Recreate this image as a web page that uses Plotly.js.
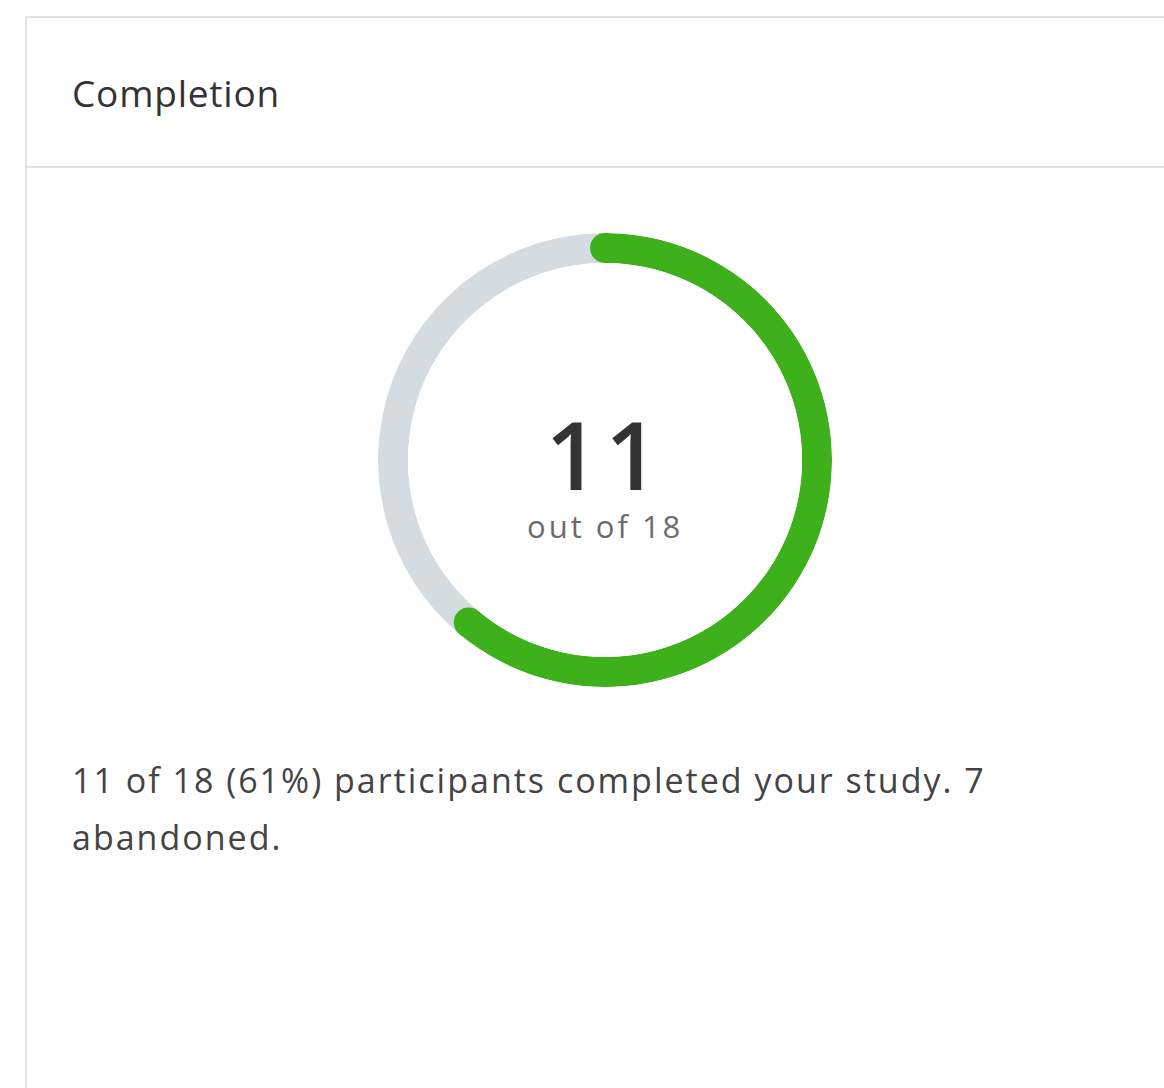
<!DOCTYPE html>
<html>
<head>
<meta charset="utf-8">
<script src="https://cdn.plot.ly/plotly-3.0.1.min.js"></script>
<style>html,body{margin:0;padding:0;background:#fff;}#chart{width:1164px;height:1088px;}</style>
</head>
<body>
<div id="chart"></div>
<script>
const categories = ["Completed", "Abandoned"];
const values = [11, 7];
const colors = ["#3db01c", "#d4dce1"];
const headerTitle = "Completion";

const W = 1164, H = 1088;
const total = values.reduce((a, b) => a + b, 0);
const pct = Math.round(values[0] / total * 100);
const px = x => x / W;
const py = y => 1 - y / H;
const styled = (s, css) => '<span style="' + css + '">' + s + '</span>';

const cx = 605, cy = 460, R = 227, ringPx = 30;
const holeFrac = 1 - ringPx / R;

// angular extents of each category (degrees, clockwise from 12 o'clock)
const widths = values.map(v => v / total * 360);
const starts = widths.map((w, i) => widths.slice(0, i).reduce((a, b) => a + b, 0));
const centers = starts.map((s, i) => s + widths[i] / 2);

const ringTraces = [1, 0].map(i => ({
  type: "barpolar",
  name: categories[i],
  r: [1],
  theta: [centers[i]],
  width: [widths[i]],
  marker: { color: colors[i], line: { width: 0 } },
  hoverinfo: "name",
  showlegend: false
}));

// rounded caps at both ends of the completed arc
const capTrace = {
  type: "scatterpolar",
  mode: "markers",
  r: [0.5, 0.5],
  theta: [starts[0], starts[0] + widths[0]],
  marker: { color: colors[0], size: ringPx, line: { width: 0 } },
  hoverinfo: "skip",
  showlegend: false
};

const font = "'Open Sans', Arial, sans-serif";
const centerText =
  styled(String(values[0]), "font-size:94px;font-weight:600;letter-spacing:6px;fill:#333333") +
  "<br>" +
  styled("out of " + total, "font-size:31px;letter-spacing:3px;fill:#6b6b6b");

const layout = {
  width: W, height: H,
  margin: { l: 0, r: 0, t: 0, b: 0 },
  paper_bgcolor: "#ffffff",
  showlegend: false,
  polar: {
    domain: { x: [px(cx - R), px(cx + R)], y: [py(cy + R), py(cy - R)] },
    hole: holeFrac,
    bgcolor: "rgba(0,0,0,0)",
    radialaxis: { visible: false, range: [0, 1] },
    angularaxis: { visible: false, rotation: 90, direction: "clockwise" }
  },
  shapes: [
    { type: "line", xref: "paper", yref: "paper", x0: px(26), x1: 1, y0: py(17), y1: py(17), line: { color: "#e3e3e3", width: 2 } },
    { type: "line", xref: "paper", yref: "paper", x0: px(26), x1: px(26), y0: py(17), y1: 0, line: { color: "#e3e3e3", width: 2 } },
    { type: "line", xref: "paper", yref: "paper", x0: px(26), x1: 1, y0: py(167), y1: py(167), line: { color: "#e3e3e3", width: 2 } }
  ],
  annotations: [
    { xref: "paper", yref: "paper", x: px(70), y: py(92), xanchor: "left", yanchor: "middle", showarrow: false,
      text: styled(headerTitle, "letter-spacing:0.8px"), font: { family: font, size: 37, color: "#333333" } },
    { xref: "paper", yref: "paper", x: px(cx), y: py(468), xanchor: "center", yanchor: "middle", showarrow: false,
      align: "center", text: centerText, font: { family: font, size: 37, color: "#333333" } },
    { xref: "paper", yref: "paper", x: px(70), y: py(780), xanchor: "left", yanchor: "middle", showarrow: false,
      text: styled(values[0] + " of " + total + " (" + pct + "%) participants completed your study. " + values[1], "letter-spacing:2px"),
      font: { family: font, size: 34, color: "#444444" } },
    { xref: "paper", yref: "paper", x: px(70), y: py(837), xanchor: "left", yanchor: "middle", showarrow: false,
      text: styled("abandoned.", "letter-spacing:2px"), font: { family: font, size: 34, color: "#444444" } }
  ]
};

Plotly.newPlot("chart", ringTraces.concat([capTrace]), layout, { displayModeBar: false, staticPlot: true });
</script>
</body>
</html>
